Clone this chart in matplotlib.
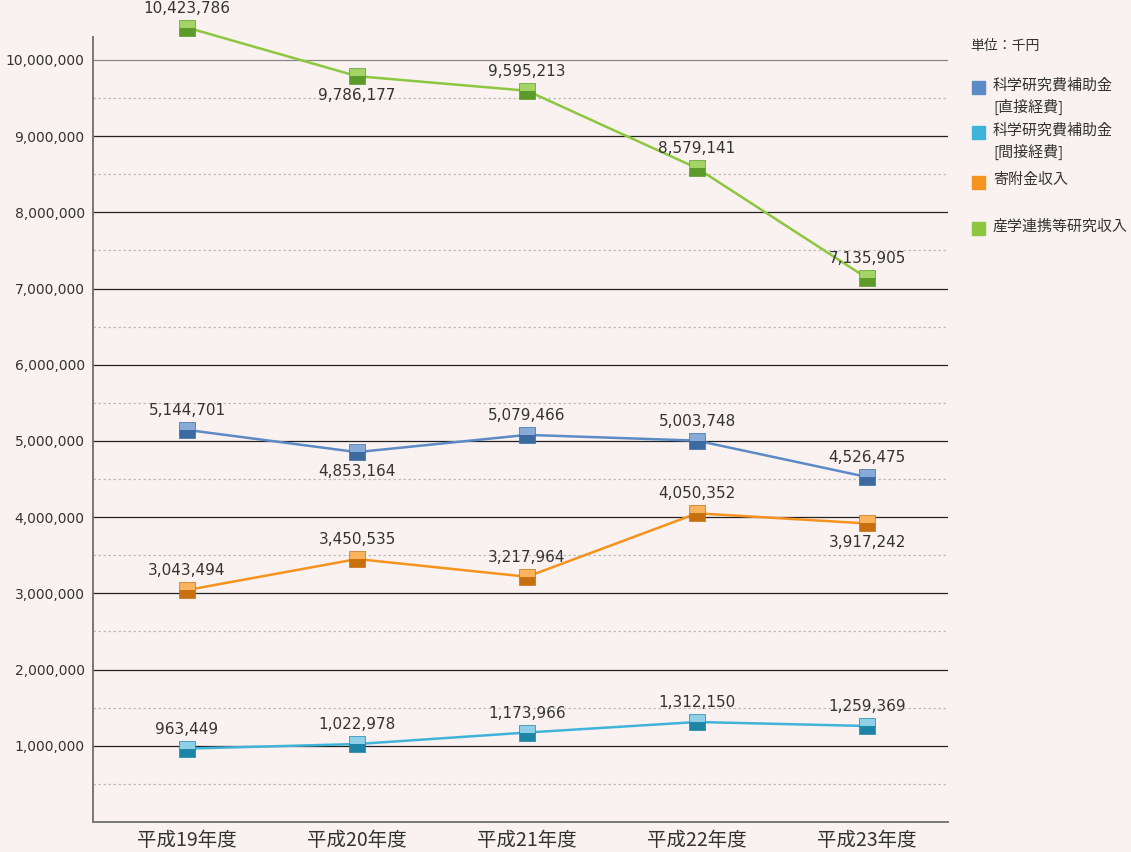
import matplotlib.pyplot as plt
from matplotlib.patches import Rectangle

plt.rcParams['font.family'] = ['Noto Sans CJK JP', 'DejaVu Sans']

years = ['平成19年度', '平成20年度', '平成21年度', '平成22年度', '平成23年度']
direct = [5144701, 4853164, 5079466, 5003748, 4526475]
indirect = [963449, 1022978, 1173966, 1312150, 1259369]
donation = [3043494, 3450535, 3217964, 4050352, 3917242]
industry = [10423786, 9786177, 9595213, 8579141, 7135905]

# which labels sit under the point
below = {
    'direct': [False, True, False, False, False],
    'indirect': [False, False, False, False, False],
    'donation': [False, False, False, False, True],
    'industry': [False, True, False, False, False],
}

legend_names = ['科学研究費補助金\n[直接経費]', '科学研究費補助金\n[間接経費]', '寄附金収入', '産学連携等研究収入']

series = [
    ('direct', direct, '#5b8ac5', '#88aad6', '#3a6aa0'),
    ('indirect', indirect, '#3fb3d9', '#8fd0e8', '#1d85a5'),
    ('donation', donation, '#f6921e', '#f8b35c', '#c8700f'),
    ('industry', industry, '#8dc63f', '#a5d466', '#5c9a2a'),
]

bg = '#f9f2f0'
fig = plt.figure(figsize=(11.31, 8.52), dpi=100, facecolor=bg)
ax = fig.add_axes([93 / 1131, 30 / 852, 855 / 1131, 785 / 852])
ax.set_facecolor(bg)

x = list(range(len(years)))
for key, vals, col, light, dark in series:
    ax.plot(x, vals, color=col, lw=1.8, zorder=3, clip_on=False)
    ax.plot(x, vals, ls='none', marker='s', ms=11.5, fillstyle='top',
            markerfacecolor=light, markerfacecoloralt=dark,
            markeredgecolor=dark, markeredgewidth=0.5, zorder=4, clip_on=False)
    for i, v in enumerate(vals):
        dy = -14 if below[key][i] else 14
        ax.annotate(f'{v:,}', (i, v), xytext=(0, dy), textcoords='offset points',
                    ha='center', va='center', fontsize=11, color='#333333',
                    family=['DejaVu Sans'], zorder=5, annotation_clip=False)

ax.set_xlim(-0.553, 4.476)
ax.set_ylim(0, 10.3e6)

for m in range(1, 11):
    ax.axhline(m * 1e6, color='#888888' if m == 10 else '#222222', lw=0.9, zorder=1)
for m in range(0, 10):
    ax.axhline(m * 1e6 + 5e5, color='#bbbbbb', lw=0.9, ls=(0, (2, 2)), zorder=1)

ax.set_yticks([m * 1e6 for m in range(1, 11)])
ax.set_yticklabels([f'{m * 1000000:,}' for m in range(1, 11)], family=['DejaVu Sans'])
ax.set_xticks(x)
ax.set_xticklabels(years, fontsize=14, color='#333333')
ax.tick_params(axis='y', length=0, labelsize=10, colors='#333333', pad=6)
ax.tick_params(axis='x', length=0, pad=6)

for s in ['top', 'right']:
    ax.spines[s].set_visible(False)
ax.spines['left'].set_color('#777777')
ax.spines['bottom'].set_color('#777777')
ax.spines['left'].set_linewidth(1.4)
ax.spines['bottom'].set_linewidth(1.4)

# legend on the right
W, H = 1131, 852
fig.text(970 / W, 1 - 46 / H, '単位：千円', fontsize=10, color='#333333', va='center')
leg_y = [87, 132, 182, 228]
for (key, vals, col, light, dark), name, y in zip(series, legend_names, leg_y):
    fig.patches.append(Rectangle((972 / W, 1 - (y + 7) / H), 13 / W, 13 / H,
                                 transform=fig.transFigure, color=col))
    fig.text(993 / W, 1 - (y - 9) / H, name, fontsize=10.8, color='#333333',
             va='top', linespacing=1.5)

fig.savefig('out.png', dpi=100, facecolor=bg)
